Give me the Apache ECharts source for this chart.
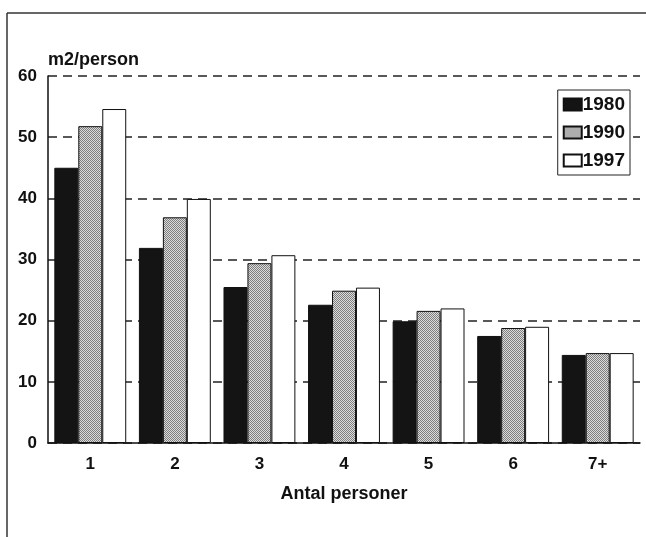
<!DOCTYPE html>
<html>
<head>
<meta charset="utf-8">
<script src="https://cdn.jsdelivr.net/npm/echarts@6/dist/echarts.min.js"></script>
<style>
html,body{margin:0;padding:0;background:#fff;}
#c{width:646px;height:537px;}
</style>
</head>
<body>
<div id="c"></div>
<script>
const categories = ['1', '2', '3', '4', '5', '6', '7+'];
const years = ['1980', '1990', '1997'];
const v1980 = [45.0, 31.9, 25.5, 22.6, 19.9, 17.5, 14.4];
const v1990 = [51.8, 36.9, 29.4, 24.9, 21.6, 18.8, 14.7];
const v1997 = [54.6, 39.9, 30.7, 25.4, 22.0, 19.0, 14.7];
const yTicks = [0, 10, 20, 30, 40, 50, 60];

// dotted grey texture
const pc = document.createElement('canvas');
pc.width = 2; pc.height = 2;
const px = pc.getContext('2d');
px.fillStyle = '#dcdcdc'; px.fillRect(0,0,2,2);
px.fillStyle = '#7e7e7e'; px.fillRect(0,0,1,1); px.fillRect(1,1,1,1);

const font = '"Liberation Sans", Arial, Helvetica, sans-serif';
const chart = echarts.init(document.getElementById('c'), null, {renderer:'canvas'});

function bar(name, data, color) {
  return {
    name: name, type: 'bar', data: data,
    barGap: '0%', barCategoryGap: '15%',
    itemStyle: {color: color, borderColor: '#111', borderWidth: 1},
    emphasis: {disabled: true}
  };
}

chart.setOption({
  animation: false,
  textStyle: {fontFamily: font},
  grid: {left: 48, right: 6, top: 76, bottom: 94, containLabel: false},
  legend: {
    orient: 'vertical', right: 16, top: 90,
    data: years,
    itemWidth: 18, itemHeight: 12, itemGap: 9,
    icon: 'rect',
    padding: [5, 5, 5, 5],
    backgroundColor: '#ffffff',
    borderColor: '#222', borderWidth: 1,
    textStyle: {fontFamily: font, fontWeight: 'bold', fontSize: 19, color: '#111', padding: [0,0,0,-4]},
    selectedMode: false
  },
  xAxis: {
    type: 'category', data: categories,
    axisLine: {lineStyle: {color: '#111', width: 1.5}},
    axisTick: {show: false},
    axisLabel: {color: '#111', fontWeight: 'bold', fontSize: 17, margin: 13, fontFamily: font},
    name: 'Antal personer', nameLocation: 'middle', nameGap: 42,
    nameTextStyle: {color: '#111', fontWeight: 'bold', fontSize: 18, fontFamily: font}
  },
  yAxis: {
    type: 'value', min: 0, max: 60, interval: 10,
    axisLine: {show: true, lineStyle: {color: '#111', width: 1.5}},
    axisTick: {show: false},
    axisLabel: {color: '#111', fontWeight: 'bold', fontSize: 17, margin: 11, fontFamily: font,
      formatter: v => yTicks.includes(v) ? String(v) : ''},
    splitLine: {lineStyle: {color: '#222', width: 1.6, type: [9, 6]}},
    name: 'm2/person', nameLocation: 'end', nameGap: 7,
    nameTextStyle: {color: '#111', fontWeight: 'bold', fontSize: 18, align: 'left', verticalAlign: 'bottom', fontFamily: font}
  },
  series: [
    bar(years[0], v1980, '#141414'),
    bar(years[1], v1990, {image: pc, repeat: 'repeat'}),
    bar(years[2], v1997, '#ffffff')
  ],
  graphic: [
    {type: 'line', shape: {x1: 7, y1: 13, x2: 646, y2: 13}, style: {stroke: '#333', lineWidth: 1.5}, silent: true},
    {type: 'line', shape: {x1: 7, y1: 13, x2: 7, y2: 537}, style: {stroke: '#333', lineWidth: 1.5}, silent: true}
  ]
});
</script>
</body>
</html>
